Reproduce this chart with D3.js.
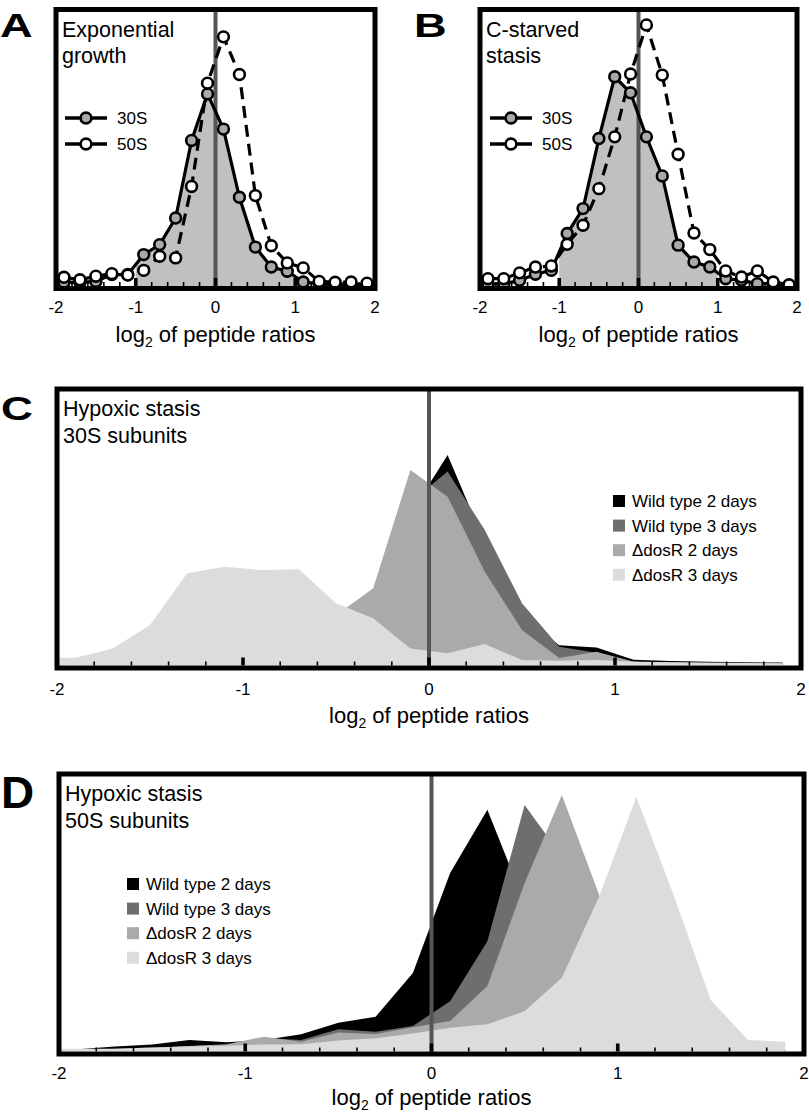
<!DOCTYPE html>
<html><head><meta charset="utf-8">
<script src="https://cdn.jsdelivr.net/npm/d3@7"></script>
<style>
body{margin:0;background:#fff}
svg{display:block}
text{font-family:"Liberation Sans",Arial,Helvetica,sans-serif;fill:#000}
</style>
</head><body>
<svg id="chart" width="809" height="1114"></svg>
<script>
// ---------- data ----------
const binsAB = [-1.9,-1.7,-1.5,-1.3,-1.1,-0.9,-0.7,-0.5,-0.3,-0.1,0.1,0.3,0.5,0.7,0.9,1.1,1.3,1.5,1.7,1.9];
const expo30S = [1.7,1.7,2.0,4.5,4.5,11.7,15.3,24.9,52.9,69.7,57.0,32.4,14.4,7.2,5.7,1.8,1.2,0.8,0.8,0.8];
const expo50S = [3.5,2.6,3.9,4.8,4.3,6.0,11.1,10.5,36.3,73.6,90.3,76.7,33.0,14.9,8.7,6.9,2.0,1.7,1.8,1.4];
const starv30S = [1.0,1.2,2.4,4.6,6.0,19.3,28.3,53.6,75.9,70.1,54.2,40.1,15.1,9.0,7.2,3.0,2.4,1.2,1.2,0.6];
const starv50S = [3.0,3.0,5.1,7.2,7.6,15.4,22.3,35.5,54.2,76.9,94.6,76.5,47.9,19.5,13.5,5.8,3.6,5.8,1.8,0.8];

const binsCD = [-2.1,-1.9,-1.7,-1.5,-1.3,-1.1,-0.9,-0.7,-0.5,-0.3,-0.1,0.1,0.3,0.5,0.7,0.9,1.1,1.3,1.5,1.7,1.9];
const c30_wt2  = [0.8,0.8,0.9,1.0,1.2,1.5,2,3,5,15,55.5,77.2,44.9,18,7.3,6.4,1.9,1.5,1.2,1.0,0.9];
const c30_wt3  = [0.6,0.6,0.7,0.8,1,1.3,1.8,2.5,5,15,59.7,71.1,49.6,22.7,6.7,4.5,1.3,1.0,0.9,0.8,0.7];
const c30_dos2 = [0.5,0.5,0.6,0.8,1.2,2,4,8,18.3,28.2,71.7,61.9,34.3,12.9,2.6,4.9,1.2,0.8,0.7,0.6,0.5];
const c30_dos3 = [2.6,2.7,6.1,14.7,33.7,36.1,34.9,35.2,22.7,17.2,6.1,4.3,7.7,1.8,1.6,1.8,1.2,1.0,0.8,0.7,0.6];

const d50_wt2  = [0.5,0.6,1.6,2.4,4.0,3.2,4.0,6.1,10.3,12.5,28.4,64.7,87.7,53.8,25,8,3,1.5,1,0.5,0.3];
const d50_wt3  = [0.3,0.4,0.8,1.3,1.8,2.2,4.6,4.0,7.9,7.0,9.1,18.1,39.9,89.5,70.7,34.5,10.3,3,1.5,0.8,0.4];
const d50_dos2 = [0.3,0.4,0.6,1.0,1.8,2.5,5.2,3.4,6.7,6.2,8.6,10.9,23.6,61.1,93.1,56.8,25,8,3,1,0.5];
const d50_dos3 = [0.8,0.8,0.8,1.3,1.6,1.9,2.4,2.5,3.8,4.6,6.4,8.5,9.7,14.5,26.6,56.2,92.5,56.7,18.5,4.0,3.4];

const xTickLabels = [-2,-1,0,1,2];
const minorTicks = [-1.8,-1.6,-1.4,-1.2,-0.8,-0.6,-0.4,-0.2,0.2,0.4,0.6,0.8,1.2,1.4,1.6,1.8];
const majorTicks = [-1,0,1];
const abSeriesNames = ["30S","50S"];
const hypoxNames = ["Wild type 2 days","Wild type 3 days","\u0394dosR 2 days","\u0394dosR 3 days"];
const hypoxColors = ["#000000","#6e6e6e","#aaaaaa","#dcdcdc"];

// ---------- helpers ----------
const svg = d3.select("#chart");
let clipId = 0;

function panel(cfg){
  const g = svg.append("g");
  const x = d3.scaleLinear().domain([-2,2]).range(cfg.xr);
  const y = d3.scaleLinear().domain([0,100]).range(cfg.yr);
  const fx0 = cfg.xr[0], fx1 = cfg.xr[1], fy0 = cfg.fy[0], fy1 = cfg.fy[1];
  const id = "clip" + (clipId++);
  svg.append("clipPath").attr("id", id).append("rect")
    .attr("x", fx0).attr("y", fy0).attr("width", fx1 - fx0).attr("height", fy1 - fy0);
  const plot = g.append("g").attr("clip-path", `url(#${id})`);
  return {g, plot, x, y, fx0, fx1, fy0, fy1};
}

function finishPanel(p, cfg){
  const {g, x, fx0, fx1, fy0, fy1} = p;
  g.append("rect").attr("x", fx0).attr("y", fy0).attr("width", fx1 - fx0).attr("height", fy1 - fy0)
    .attr("fill", "none").attr("stroke", "#000").attr("stroke-width", 5);
  const inB = fy1 - 2.5;
  g.selectAll(".mt").data(minorTicks).enter().append("rect")
    .attr("x", d => x(d) - 0.8).attr("y", inB - 4).attr("width", 1.6).attr("height", 4).attr("fill", "#000");
  g.selectAll(".Mt").data(majorTicks).enter().append("rect")
    .attr("x", d => x(d) - 1.8).attr("y", inB - 8).attr("width", 3.6).attr("height", 8).attr("fill", "#000");
  g.selectAll(".tl").data(xTickLabels).enter().append("text")
    .attr("x", d => x(d)).attr("y", fy1 + cfg.tickDy).attr("text-anchor", "middle")
    .attr("font-size", 17).text(d => d);
  const t = g.append("text").attr("x", x(0)).attr("y", fy1 + cfg.titleDy)
    .attr("text-anchor", "middle").attr("font-size", 22);
  t.append("tspan").text("log");
  t.append("tspan").attr("font-size", 14).attr("dy", 5).text("2");
  t.append("tspan").attr("dy", -5).text(" of peptide ratios");
  cfg.label.forEach((s, i) => {
    g.append("text").attr("x", fx0 + 6).attr("y", fy0 + 27 + i * 26.5).attr("font-size", 21.5).text(s);
  });
  g.append("text").attr("transform", `translate(${cfg.letterX},${cfg.letterY}) scale(${cfg.letterSx},1)`)
    .attr("font-size", cfg.letterSize).attr("font-weight", "bold").text(cfg.letter);
}

function zeroLine(p){
  p.plot.append("line").attr("x1", p.x(0)).attr("x2", p.x(0)).attr("y1", p.fy0).attr("y2", p.fy1)
    .attr("stroke", "#555").attr("stroke-width", 4);
}

// ---------- panels A & B ----------
function drawAB(cfg, s30, s50){
  const p = panel(cfg);
  const {plot, x, y} = p;
  const d30 = binsAB.map((b, i) => ({x: b, v: s30[i]}));
  const d50 = binsAB.map((b, i) => ({x: b, v: s50[i]}));
  const id = "clip" + (clipId++);
  svg.append("clipPath").attr("id", id).append("rect")
    .attr("x", x(-1)).attr("y", p.fy0).attr("width", x(1) - x(-1)).attr("height", p.fy1 - p.fy0);
  plot.append("path").datum(d30).attr("clip-path", `url(#${id})`)
    .attr("d", d3.area().x(d => x(d.x)).y0(y(0)).y1(d => y(d.v)))
    .attr("fill", "#c0c0c0");
  zeroLine(p);
  const line = d3.line().x(d => x(d.x)).y(d => y(d.v));
  plot.append("path").datum(d50).attr("d", line).attr("fill", "none")
    .attr("stroke", "#000").attr("stroke-width", 3.2).attr("stroke-dasharray", "12,7");
  plot.append("path").datum(d30).attr("d", line).attr("fill", "none")
    .attr("stroke", "#000").attr("stroke-width", 3.2);
  plot.selectAll(".c30").data(d30).enter().append("circle")
    .attr("cx", d => x(d.x)).attr("cy", d => y(d.v)).attr("r", 5.4)
    .attr("fill", "#a9a9a9").attr("stroke", "#000").attr("stroke-width", 2.6);
  plot.selectAll(".c50").data(d50).enter().append("circle")
    .attr("cx", d => x(d.x)).attr("cy", d => y(d.v)).attr("r", 5.4)
    .attr("fill", "#fff").attr("stroke", "#000").attr("stroke-width", 2.6);
  const lg = p.g.append("g");
  abSeriesNames.forEach((n, i) => {
    const ly = cfg.legY + i * 26;
    lg.append("line").attr("x1", cfg.legX).attr("x2", cfg.legX + 42).attr("y1", ly).attr("y2", ly)
      .attr("stroke", "#000").attr("stroke-width", 3.5);
    lg.append("circle").attr("cx", cfg.legX + 21).attr("cy", ly).attr("r", 5.4)
      .attr("fill", i === 0 ? "#a9a9a9" : "#fff").attr("stroke", "#000").attr("stroke-width", 2.6);
    lg.append("text").attr("x", cfg.legX + 52).attr("y", ly + 6).attr("font-size", 17).text(n);
  });
  finishPanel(p, cfg);
}

drawAB({xr:[56,375], yr:[287,10], fy:[9.5,288.5], tickDy:24.5, titleDy:53.5,
        label:["Exponential","growth"], letter:"A", letterX:0, letterY:37, letterSize:34, letterSx:1.33,
        legX:65, legY:118},
       expo30S, expo50S);
drawAB({xr:[480,797], yr:[287,10], fy:[9.5,288.5], tickDy:24.5, titleDy:53.5,
        label:["C-starved","stasis"], letter:"B", letterX:414, letterY:37, letterSize:34, letterSx:1.33,
        legX:490, legY:118},
       starv30S, starv50S);

// ---------- panels C & D ----------
function drawHyp(cfg, series){
  const p = panel(cfg);
  const {plot, x, y} = p;
  const area = d3.area().x(d => x(d.x)).y0(y(0)).y1(d => y(d.v));
  series.forEach((s, k) => {
    const data = binsCD.map((b, i) => ({x: b, v: s[i]}));
    plot.append("path").datum(data).attr("d", area).attr("fill", hypoxColors[k]);
  });
  zeroLine(p);
  const lg = p.g.append("g");
  hypoxNames.forEach((n, i) => {
    const cy = cfg.legY + i * 24.6;
    lg.append("rect").attr("x", cfg.legX).attr("y", cy - 6).attr("width", 12).attr("height", 12)
      .attr("fill", hypoxColors[i]);
    lg.append("text").attr("x", cfg.legX + 19).attr("y", cy + 6).attr("font-size", 17).text(n);
  });
  finishPanel(p, cfg);
}

drawHyp({xr:[57,801], yr:[665,393], fy:[389,668], tickDy:27, titleDy:55,
         label:["Hypoxic stasis","30S subunits"], letter:"C", letterX:1, letterY:420, letterSize:34, letterSx:1.3,
         legX:613, legY:501},
        [c30_wt2, c30_wt3, c30_dos2, c30_dos3]);
drawHyp({xr:[59,804], yr:[1051,776], fy:[774,1054], tickDy:24.5, titleDy:51,
         label:["Hypoxic stasis","50S subunits"], letter:"D", letterX:1, letterY:808, letterSize:45, letterSx:1.02,
         legX:127, legY:884},
        [d50_wt2, d50_wt3, d50_dos2, d50_dos3]);
</script>
</body></html>
